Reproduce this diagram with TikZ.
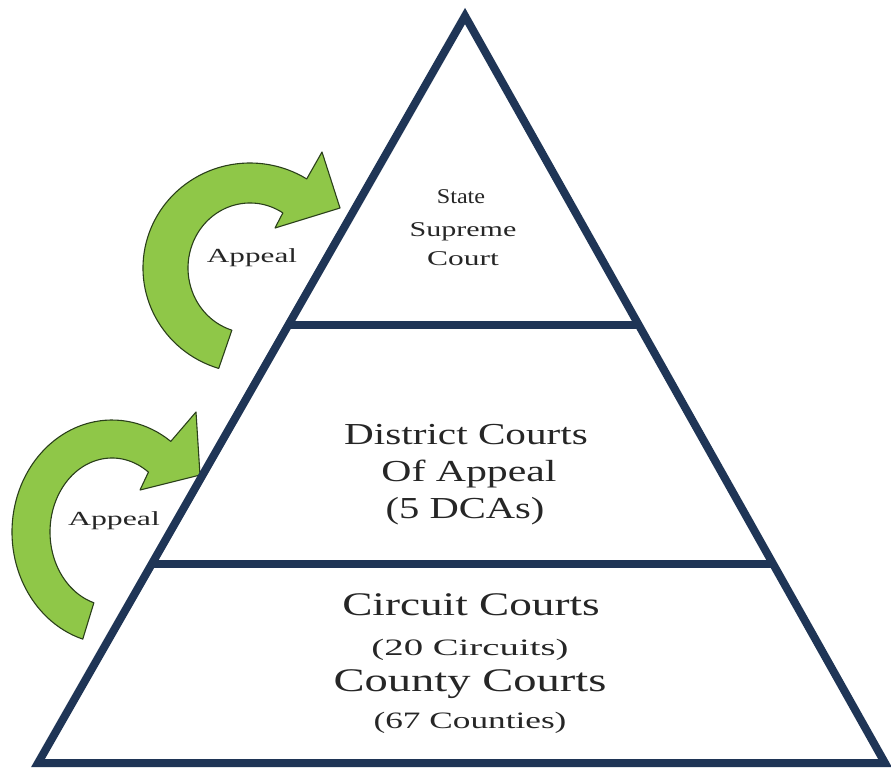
\documentclass[tikz,border=0pt]{standalone}
\usepackage{fontspec}
\usepackage{graphicx}
\setmainfont{Liberation Serif}
\usetikzlibrary{calc}
\definecolor{navy}{HTML}{1F3556}
\definecolor{agreen}{HTML}{8FC748}
\definecolor{aedge}{HTML}{2A3F1A}
\definecolor{txt}{HTML}{262626}
\newcommand{\wtext}[3]{{\fontsize{#1}{#1}\selectfont\scalebox{#2}[1]{#3}}}
\begin{document}
\begin{tikzpicture}[x=1pt,y=-1pt,
  tier/.style={draw=navy, line width=8pt, line join=miter},
  arrowshape/.style={draw=aedge, fill=agreen, line width=1.1pt, line join=round},
  lbl/.style={anchor=base, inner sep=0pt, text=txt}]
\useasboundingbox (0,0) rectangle (891,768);
\fill[white] (0,0) rectangle (891,768);

% green appeal arrows
\path[arrowshape]
  ([shift={(250,268)}]107:107 and 105)
  arc[start angle=107, end angle=302, x radius=107, y radius=105]
  -- (322,152) -- (340,208) -- (275,228)
  -- ([shift={(250,268)}]302:62 and 65)
  arc[start angle=302, end angle=107, x radius=62, y radius=65]
  -- cycle;
\path[arrowshape]
  ([shift={(112,532)}]107:100 and 112)
  arc[start angle=107, end angle=306, x radius=100, y radius=112]
  -- (196,412) -- (200,475) -- (140,490)
  -- ([shift={(112,532)}]306:62 and 74)
  arc[start angle=306, end angle=107, x radius=62, y radius=74]
  -- cycle;

% pyramid
\coordinate (A) at (465,16);
\coordinate (BL) at (38,763);
\coordinate (BR) at (885,763);
\coordinate (L1) at ($(A)!0.4137!(BL)$);
\coordinate (R1) at ($(A)!0.4137!(BR)$);
\coordinate (L2) at ($(A)!0.7336!(BL)$);
\coordinate (R2) at ($(A)!0.7336!(BR)$);
\draw[tier] (A) -- (BL) -- (BR) -- cycle;
\draw[tier] (L1) -- (R1);
\draw[tier] (L2) -- (R2);

% labels
\node[lbl] (ap1) at (252,262) {\wtext{20}{1.56}{Appeal}};
\node[lbl] (ap2) at (114,525) {\wtext{20}{1.59}{Appeal}};

\node[lbl] (s1) at (461,203) {\wtext{21}{1.15}{State}};
\node[lbl] (s2) at (463,236) {\wtext{21}{1.43}{Supreme}};
\node[lbl] (s3) at (463,265) {\wtext{21}{1.5}{Court}};

\node[lbl] (d1) at (466,444) {\wtext{30.5}{1.35}{District Courts}};
\node[lbl] (d2) at (469,481) {\wtext{30.5}{1.37}{Of Appeal}};
\node[lbl] (d3) at (465,518) {\wtext{30.5}{1.33}{(5 DCAs)}};

\node[lbl] (c1) at (471,615) {\wtext{33}{1.37}{Circuit Courts}};
\node[lbl] (c2) at (470,655) {\wtext{23.5}{1.65}{(20 Circuits)}};
\node[lbl] (c3) at (470,691) {\wtext{33}{1.41}{County Courts}};
\node[lbl] (c4) at (470,728) {\wtext{23.5}{1.5}{(67 Counties)}};
\end{tikzpicture}
\end{document}
